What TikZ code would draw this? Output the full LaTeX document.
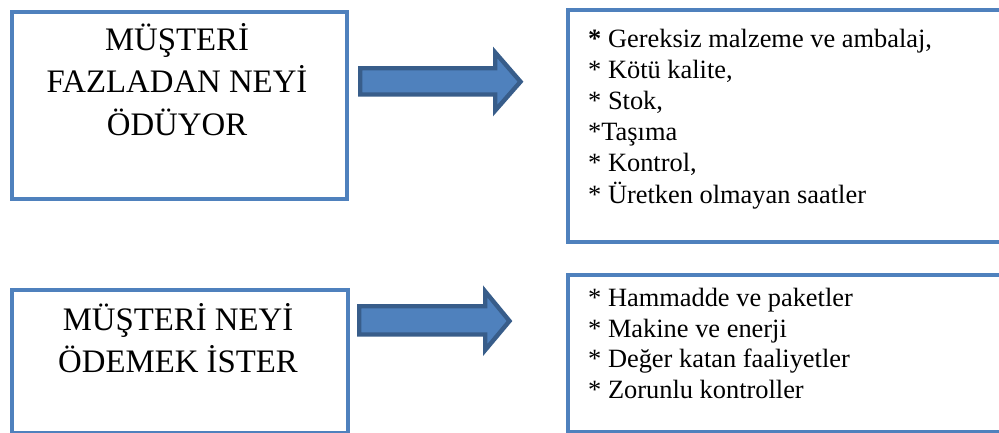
\documentclass[tikz,border=0pt]{standalone}
\usepackage{fontspec}
\setmainfont{Liberation Serif}
\definecolor{boxblue}{HTML}{4F81BD}
\definecolor{arrowdark}{HTML}{385D8A}
\begin{document}
\begin{tikzpicture}[x=1pt,y=-1pt,
  panel/.style={draw=boxblue, line width=4.3pt, fill=white, rectangle, inner sep=0pt, anchor=north west},
  titletext/.style={align=center, inner sep=0pt, anchor=base, font=\fontsize{32.8}{42.5}\selectfont},
  listtext/.style={align=left, inner sep=0pt, anchor=base west, font=\fontsize{26.4}{31.1}\selectfont},
  blockarrow/.style={fill=boxblue, draw=arrowdark, line width=4.4pt, line join=miter}]
\useasboundingbox (0,0) rectangle (999,432);
\clip (0,0) rectangle (999,432);
\fill[white] (0,0) rectangle (999,432);
% boxes
\node[panel, minimum width=335.2pt, minimum height=187.5pt] (b1) at (9.5,9.5) {};
\node[panel, minimum width=460pt, minimum height=232pt] (b2) at (565.5,8) {};
\node[panel, minimum width=336pt, minimum height=142.5pt] (b3) at (9.5,288) {};
\node[panel, minimum width=460pt, minimum height=157.5pt] (b4) at (565.5,272.5) {};
% texts (anchor base = baseline of the last line)
\node[titletext] (t1) at (177,135) {MÜŞTERİ\\FAZLADAN NEYİ\\ÖDÜYOR};
\node[titletext] (t3) at (178,372.7) {MÜŞTERİ NEYİ\\ÖDEMEK İSTER};
\node[listtext] (l2) at (588,203) {{\bfseries *} Gereksiz malzeme ve ambalaj,\\* Kötü kalite,\\* Stok,\\*Taşıma\\* Kontrol,\\* Üretken olmayan saatler};
\node[listtext, font=\fontsize{26.4}{30.5}\selectfont] (l4) at (588,398) {* Hammadde ve paketler\\* Makine ve enerji\\* Değer katan faaliyetler\\* Zorunlu kontroller};
% block arrows
\draw[blockarrow] (360.2,68.2) -- (495.2,68.2) -- (495.2,52.5) -- (520.5,81.7) -- (495.2,110.5) -- (495.2,94.5) -- (360.2,94.5) -- cycle;
\draw[blockarrow] (359.2,306.2) -- (485.2,306.2) -- (485.2,291.5) -- (509.5,321) -- (485.2,350) -- (485.2,334.5) -- (359.2,334.5) -- cycle;
\end{tikzpicture}
\end{document}
